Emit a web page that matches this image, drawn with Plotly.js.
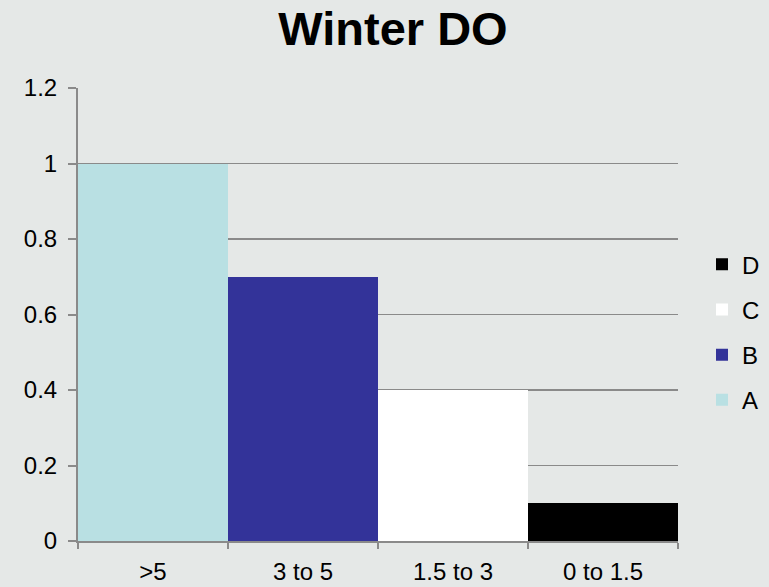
<!DOCTYPE html>
<html>
<head>
<meta charset="utf-8">
<script src="https://cdn.plot.ly/plotly-3.0.1.min.js"></script>
<style>html,body{margin:0;padding:0;background:#e5e8e7;}#chart{width:769px;height:587px;}</style>
</head>
<body>
<div id="chart"></div>
<script>
var categories = [">5", "3 to 5", "1.5 to 3", "0 to 1.5"];
var seriesNames = ["A", "B", "C", "D"];
var values = [1.0, 0.7, 0.4, 0.1];
var colors = ["#b9e0e3", "#333399", "#ffffff", "#000000"];
var yTicks = [0, 0.2, 0.4, 0.6, 0.8, 1, 1.2];
var yTickText = ["0", "0.2", "0.4", "0.6", "0.8", "1", "1.2"];

var traces = seriesNames.map(function (name, i) {
  return {
    type: "bar",
    name: name,
    x: [categories[i]],
    y: [values[i]],
    marker: { color: colors[i], line: { width: 0 } },
    legendgroup: name,
    legendrank: seriesNames.length - i,
    hoverinfo: "x+y"
  };
});

var font = { family: "Liberation Sans, Arial, sans-serif", color: "#000" };

var layout = {
  width: 769,
  height: 587,
  paper_bgcolor: "#e5e8e7",
  plot_bgcolor: "rgba(0,0,0,0)",
  margin: { l: 78, r: 91, t: 88, b: 46, autoexpand: false },
  barmode: "stack",
  bargap: 0,
  font: { family: font.family, color: "#000", size: 24 },
  title: {
    text: "<b>Winter DO</b>",
    font: { family: font.family, size: 47, color: "#000" },
    x: 0.525, xanchor: "center", xref: "paper",
    y: 0.952, yanchor: "middle", yref: "container"
  },
  xaxis: {
    type: "category",
    categoryorder: "array",
    categoryarray: categories,
    showline: true, linecolor: "#8a8a8a", linewidth: 2,
    ticks: "outside", tickson: "boundaries", ticklen: 6, tickcolor: "#8a8a8a", tickwidth: 2,
    tickfont: { size: 24, family: font.family, color: "#000" },
    showgrid: false, zeroline: false, automargin: false,
    ticklabelstandoff: 8
  },
  yaxis: {
    range: [0, 1.2],
    tickmode: "array", tickvals: yTicks, ticktext: yTickText,
    showline: true, linecolor: "#8a8a8a", linewidth: 2,
    ticks: "outside", ticklen: 8, tickcolor: "#8a8a8a", tickwidth: 2,
    tickfont: { size: 24, family: font.family, color: "#000" },
    showgrid: true, gridcolor: "#8a8a8a", gridwidth: 1.5,
    zeroline: false, automargin: false,
    ticklabelstandoff: 6
  },
  legend: {
    traceorder: "grouped",
    x: 1.04, xanchor: "left",
    y: 0.461, yanchor: "middle",
    bgcolor: "rgba(0,0,0,0)",
    font: { size: 24, family: font.family, color: "#000" },
    tracegroupgap: 11,
    itemwidth: 30
  },
  showlegend: true
};

Plotly.newPlot("chart", traces, layout, { displayModeBar: false, staticPlot: true });
</script>
</body>
</html>
